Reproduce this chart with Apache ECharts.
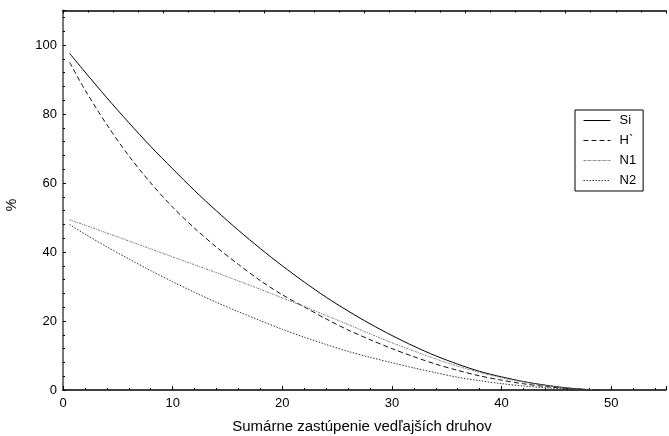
<!DOCTYPE html>
<html><head><meta charset="utf-8">
<script src="https://cdn.jsdelivr.net/npm/echarts@6/dist/echarts.min.js"></script>
<style>html,body{margin:0;padding:0;background:#fff}#c{width:669px;height:436px}</style>
</head><body><div id="c"></div>
<script>
const xValues = [0.6, 2, 4, 6, 8, 10, 12, 14, 16, 18, 20, 22, 24, 26, 28, 30, 32, 34, 36, 38, 40, 42, 44, 46, 48, 49];
const si  = [97.6, 92.2, 84.7, 77.5, 70.6, 64.1, 57.8, 51.9, 46.3, 41.0, 36.0, 31.3, 26.9, 22.9, 19.2, 15.8, 12.7, 9.9, 7.5, 5.4, 3.8, 2.45, 1.4, 0.6, 0.1, 0];
const hPrime = [95.0, 87.0, 76.9, 67.9, 60.0, 53.0, 46.9, 41.4, 36.4, 31.7, 27.6, 24.1, 20.6, 17.4, 14.6, 12.0, 9.65, 7.5, 5.7, 4.1, 2.85, 1.8, 1.0, 0.45, 0.08, 0];
const n1  = [49.3, 47.8, 45.5, 43.2, 40.9, 38.6, 36.3, 34.0, 31.6, 29.2, 26.7, 24.2, 21.6, 19.0, 16.3, 13.7, 11.3, 9.0, 6.9, 5.1, 3.55, 2.3, 1.3, 0.6, 0.12, 0];
const n2  = [48.0, 45.2, 41.5, 38.0, 34.6, 31.4, 28.3, 25.4, 22.7, 20.1, 17.6, 15.3, 13.2, 11.2, 9.5, 7.9, 6.4, 5.0, 3.7, 2.7, 1.85, 1.15, 0.65, 0.3, 0.06, 0];
const seriesNames = ['Si', 'H`', 'N1', 'N2'];
const xTickLabels = ['0', '10', '20', '30', '40', '50'];
const yTickLabels = ['0', '20', '40', '60', '80', '100'];
const xTitle = 'Sumárne zastúpenie vedľajších druhov';
const yTitle = '%';

const FONT = '"Liberation Sans", Arial, sans-serif';
const pairs = arr => xValues.map((x, i) => [x, arr[i]]);

const chart = echarts.init(document.getElementById('c'), null, {renderer: 'canvas'});
chart.setOption({
  animation: false,
  backgroundColor: '#fff',
  textStyle: {fontFamily: FONT},
  grid: {left: 63, right: -3, top: 10.5, bottom: 46, containLabel: false},
  xAxis: [{
    type: 'value', position: 'bottom', min: 0, max: 55, interval: 10,
    axisLine: {show: true, onZero: false, lineStyle: {color: '#000', width: 1.5}},
    axisTick: {show: true, inside: true, length: 4, lineStyle: {color: '#000'}},
    minorTick: {show: true, splitNumber: 5, length: 2, lineStyle: {color: '#000'}},
    splitLine: {show: false},
    axisLabel: {color: '#000', fontSize: 13, fontFamily: FONT, margin: 7,
      formatter: v => xTickLabels.includes(String(v)) ? String(v) : ''}
  }, {
    type: 'value', position: 'top', min: 0, max: 24, interval: 4,
    axisLine: {show: true, onZero: false, lineStyle: {color: '#000', width: 1.5}},
    axisTick: {show: true, inside: true, length: 3, lineStyle: {color: '#000'}},
    minorTick: {show: true, splitNumber: 4, length: 2, lineStyle: {color: '#000'}},
    splitLine: {show: false},
    axisLabel: {show: false}
  }],
  yAxis: {
    type: 'value', min: 0, max: 110, interval: 20,
    axisLine: {show: true, onZero: false, lineStyle: {color: '#777', width: 2}},
    axisTick: {show: true, inside: true, length: 3, lineStyle: {color: '#000'}},
    minorTick: {show: true, splitNumber: 5, length: 2, lineStyle: {color: '#000'}},
    splitLine: {show: false},
    axisLabel: {color: '#000', fontSize: 13, fontFamily: FONT, margin: 6,
      formatter: v => yTickLabels.includes(String(v)) ? String(v) : ''}
  },
  legend: {
    orient: 'vertical', left: 575, top: 110,
    borderColor: '#000', borderWidth: 1, padding: [4, 7, 4, 8],
    itemWidth: 27, itemHeight: 10, itemGap: 7,
    icon: 'inherit',
    itemStyle: {opacity: 0},
    lineStyle: {width: 1},
    textStyle: {color: '#000', fontSize: 13, fontFamily: FONT, padding: [0, 0, 0, 4]},
    data: seriesNames
  },
  graphic: [
    {type: 'text', style: {text: xTitle, font: '15px ' + FONT, fill: '#000', textAlign: 'center', textVerticalAlign: 'middle', x: 362, y: 427}},
    {type: 'text', x: 12, y: 205, rotation: Math.PI / 2, style: {text: yTitle, font: '14px ' + FONT, fill: '#000', textAlign: 'center', textVerticalAlign: 'middle'}}
  ],
  series: [
    {name: seriesNames[0], type: 'line', data: pairs(si), symbol: 'none', smooth: 0.3,
      lineStyle: {color: '#000', width: 1, type: 'solid'}, itemStyle: {color: '#000'}},
    {name: seriesNames[1], type: 'line', data: pairs(hPrime), symbol: 'none', smooth: 0.3,
      lineStyle: {color: '#111', width: 1, type: [5, 3]}, itemStyle: {color: '#111'}},
    {name: seriesNames[2], type: 'line', data: pairs(n1), symbol: 'none', smooth: 0.3,
      lineStyle: {color: '#777', width: 1, type: [2, 1, 1, 1]}, itemStyle: {color: '#777'}},
    {name: seriesNames[3], type: 'line', data: pairs(n2), symbol: 'none', smooth: 0.3,
      lineStyle: {color: '#333', width: 1, type: [1.5, 1.5]}, itemStyle: {color: '#333'}}
  ]
});
</script></body></html>
